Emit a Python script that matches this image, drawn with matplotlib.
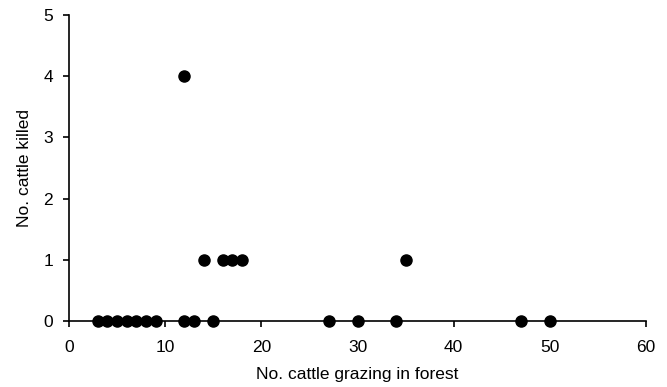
import matplotlib
matplotlib.use("Agg")
import matplotlib.pyplot as plt

plt.rcParams['font.family'] = ['Liberation Sans', 'DejaVu Sans']

cattle_grazing = [3, 4, 5, 6, 7, 8, 9, 12, 13, 15, 27, 30, 34, 47, 50,
                  14, 16, 17, 18, 35, 12]
cattle_killed = [0, 0, 0, 0, 0, 0, 0, 0, 0, 0, 0, 0, 0, 0, 0,
                 1, 1, 1, 1, 1, 4]
x_ticks = [0, 10, 20, 30, 40, 50, 60]
y_ticks = [0, 1, 2, 3, 4, 5]

fig = plt.figure(figsize=(6.67, 3.87), dpi=100)
ax = fig.add_axes([69/667, 1-321/387, (646-69)/667, (321-15)/387])
ax.plot(cattle_grazing, cattle_killed, 'o', color='black', markersize=8, clip_on=False, zorder=3)
ax.set_xlim(0, 60)
ax.set_ylim(0, 5)
ax.set_xticks(x_ticks)
ax.set_yticks(y_ticks)
ax.spines['top'].set_visible(False)
ax.spines['right'].set_visible(False)
for s in ['left', 'bottom']:
    ax.spines[s].set_linewidth(1.2)
ax.tick_params(direction='out', length=4.5, width=1.2, labelsize=12.5, colors='black')
ax.tick_params(axis='x', pad=9)
ax.tick_params(axis='y', pad=7)
ax.set_xlabel('No. cattle grazing in forest', fontsize=12.5, labelpad=9)
ax.set_ylabel('No. cattle killed', fontsize=12.5, labelpad=8)
fig.savefig('out.png', dpi=100)
